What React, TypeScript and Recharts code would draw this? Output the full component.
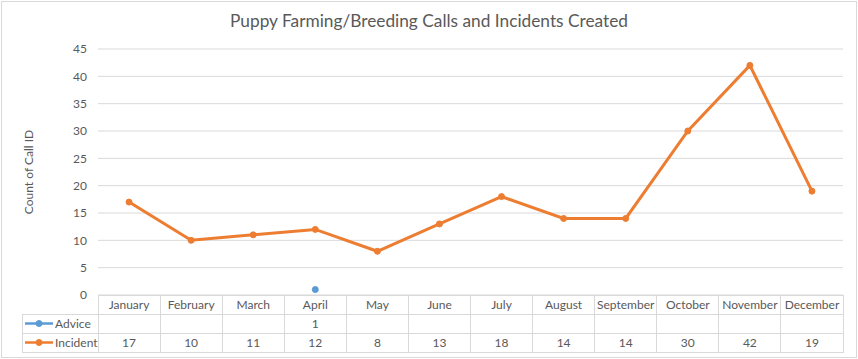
import React from 'react';
import { LineChart, Line, XAxis, YAxis, CartesianGrid, Label } from 'recharts';

const title = 'Puppy Farming/Breeding Calls and Incidents Created';
const yAxisTitle = 'Count of Call ID';
const months = ['January', 'February', 'March', 'April', 'May', 'June', 'July', 'August', 'September', 'October', 'November', 'December'];
const adviceValues: (number | null)[] = [null, null, null, 1, null, null, null, null, null, null, null, null];
const incidentValues: number[] = [17, 10, 11, 12, 8, 13, 18, 14, 14, 30, 42, 19];
const yTicks = [0, 5, 10, 15, 20, 25, 30, 35, 40, 45];
const seriesNames = ['Advice', 'Incident'];
const seriesColors = ['#5b9bd5', '#ed7d31'];

const data = months.map((m, i) => ({ month: m, Advice: adviceValues[i], Incident: incidentValues[i] }));

const FONT = 'Lato, "Liberation Sans", sans-serif';
const TEXT = '#595959';
const GRID = '#d9d9d9';
const ROW_H = 19;
const LEGEND_W = 76;

const TableTick = (props: any) => {
  const { x, y, payload, index, width, visibleTicksCount } = props;
  const band = width && visibleTicksCount ? width / visibleTicksCount : 62.08;
  const left = x - band / 2;
  const rows = [payload.value, adviceValues[index], incidentValues[index]];
  return (
    <g>
      {rows.map((v, r) => (
        <g key={r}>
          <rect x={left} y={y + r * ROW_H} width={band} height={ROW_H} fill="none" stroke={GRID} strokeWidth={1} shapeRendering="crispEdges" />
          {v !== null && v !== undefined && (
            <text x={x} y={y + r * ROW_H + ROW_H / 2 + 4} textAnchor="middle" fill={TEXT} fontSize={12} fontFamily={FONT}>
              {String(v)}
            </text>
          )}
        </g>
      ))}
      {index === 0 &&
        seriesNames.map((name, s) => {
          const ry = y + (s + 1) * ROW_H;
          const cy = ry + ROW_H / 2;
          return (
            <g key={name}>
              <rect x={left - LEGEND_W} y={ry} width={LEGEND_W} height={ROW_H} fill="none" stroke={GRID} strokeWidth={1} shapeRendering="crispEdges" />
              <line x1={left - LEGEND_W + 3} x2={left - LEGEND_W + 31} y1={cy} y2={cy} stroke={seriesColors[s]} strokeWidth={2.5} />
              <circle cx={left - LEGEND_W + 17} cy={cy} r={3} fill={seriesColors[s]} stroke={seriesColors[s]} />
              <text x={left - LEGEND_W + 33} y={cy + 4} fill={TEXT} fontSize={12} fontFamily={FONT}>
                {name}
              </text>
            </g>
          );
        })}
    </g>
  );
};

export default function App() {
  return (
    <div style={{ position: 'absolute', left: 0, top: 0, width: 858, height: 359, background: '#fff' }}>
      <div style={{ position: 'absolute', left: 1, top: 1, width: 854, height: 355, border: `1px solid ${GRID}` }} />
      <div
        style={{
          position: 'absolute',
          left: 0,
          top: 9,
          width: 858,
          textAlign: 'center',
          fontFamily: FONT,
          fontSize: 17.3,
          color: TEXT,
          lineHeight: '24px',
        }}
      >
        {title}
      </div>
      <LineChart width={858} height={359} data={data} margin={{ top: 49, right: 15, bottom: 8, left: 0 }}>
        <CartesianGrid vertical={false} stroke={GRID} strokeWidth={1} />
        <XAxis
          dataKey="month"
          type="category"
          scale="band"
          height={56}
          axisLine={false}
          tickLine={false}
          tickSize={0}
          tickMargin={0}
          interval={0}
          tick={<TableTick />}
        />
        <YAxis
          width={98}
          domain={[0, 45]}
          ticks={yTicks}
          interval={0}
          axisLine={false}
          tickLine={false}
          tickMargin={5}
          tick={{ fill: TEXT, fontSize: 12, fontFamily: FONT }}
        >
          <Label
            content={() => (
              <text x={33} y={172} transform="rotate(-90 33 172)" textAnchor="middle" fill={TEXT} fontSize={12} fontFamily={FONT}>
                {yAxisTitle}
              </text>
            )}
          />
        </YAxis>
        <Line
          dataKey="Advice"
          stroke={seriesColors[0]}
          strokeWidth={3}
          dot={{ r: 3, fill: seriesColors[0], stroke: seriesColors[0], strokeWidth: 1 }}
          isAnimationActive={false}
          connectNulls={false}
        />
        <Line
          dataKey="Incident"
          stroke={seriesColors[1]}
          strokeWidth={3}
          dot={{ r: 3, fill: seriesColors[1], stroke: seriesColors[1], strokeWidth: 1 }}
          isAnimationActive={false}
        />
      </LineChart>
    </div>
  );
}
